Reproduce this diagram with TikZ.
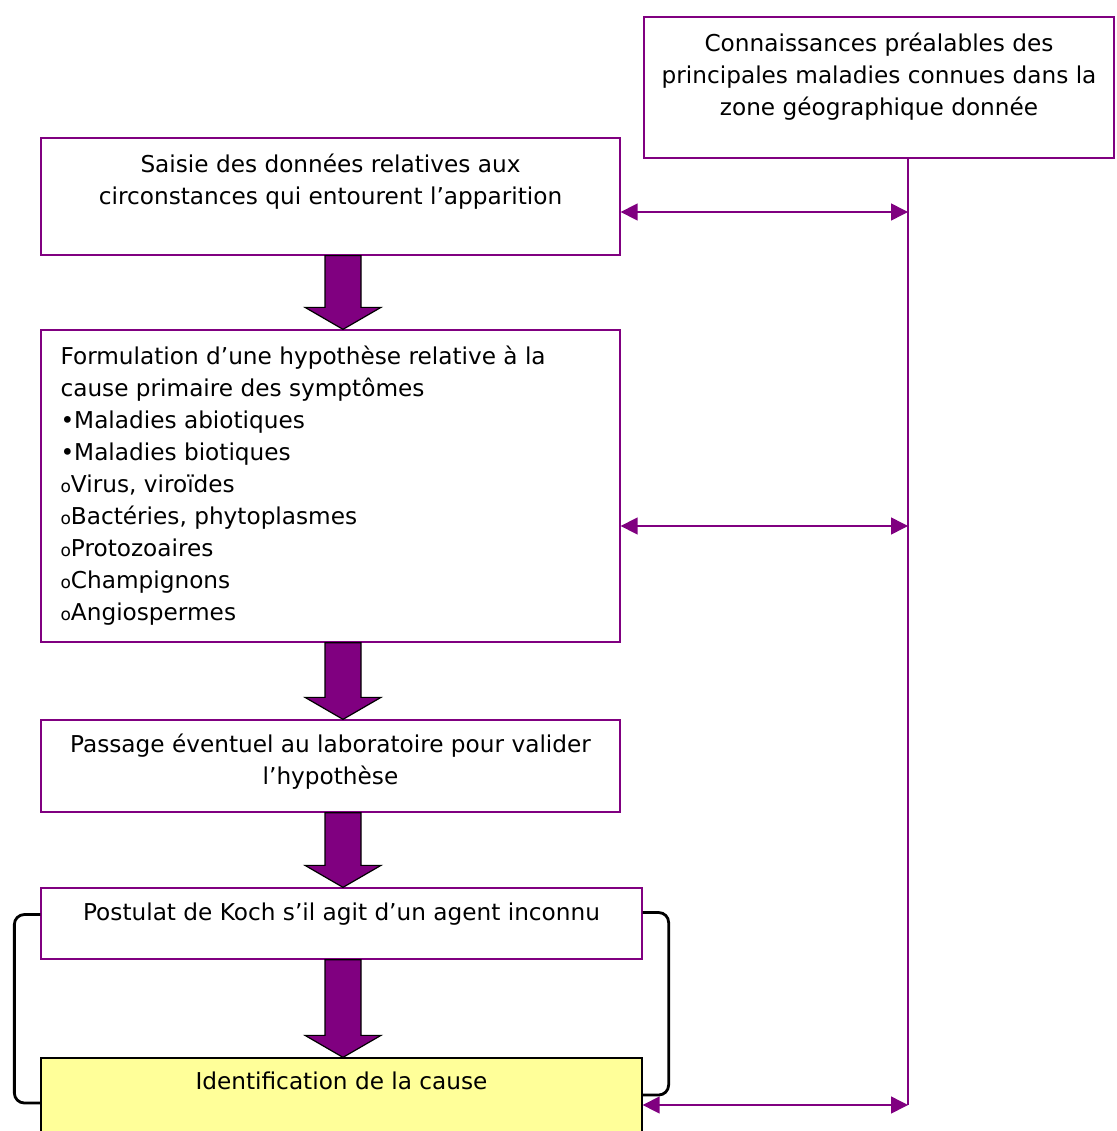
\documentclass[tikz,border=0pt]{standalone}
\usepackage{fontspec}
\setmainfont{DejaVu Sans}
\usetikzlibrary{arrows.meta,calc,positioning}

\definecolor{violet}{RGB}{128,0,128}
\definecolor{paleyellow}{RGB}{255,255,153}

\tikzset{
  box/.style={draw=violet, line width=1.3pt, rectangle, inner sep=0pt},
  txt/.style={inner sep=0pt, font=\fontsize{23.2}{32}\selectfont},
  link/.style={draw=violet, line width=1.5pt},
  dbl/.style={link, {Triangle[length=17pt,width=17pt]}-{Triangle[length=17pt,width=17pt]}},
  bigarr/.style={fill=violet, draw=black, line width=1.2pt, line join=miter},
  loopback/.style={draw=black, line width=2.8pt, rounded corners=10pt}
}

% small "o" bullet of the sub list
\newcommand{\subbullet}{{\fontsize{17}{32}\selectfont o}}

% block arrow from the bottom of #1 to the top of #2
\newcommand{\bigarrow}[2]{%
  \path (#1.south -| axis) coordinate (ba1) (#2.north -| axis) coordinate (ba2);
  \draw[bigarr] ($(ba1)+(-18,0)$) -- ($(ba1)+(18,0)$) -- ($(ba2)+(18,-22)$)
    -- ($(ba2)+(38,-22)$) -- (ba2) -- ($(ba2)+(-38,-22)$)
    -- ($(ba2)+(-18,-22)$) -- cycle;
}

\begin{document}
\begin{tikzpicture}[x=1pt, y=-1pt]
\useasboundingbox (0,0) rectangle (1116,1131);

\coordinate (axis) at (343,0);
\coordinate (vx) at (908,0);

% boxes
\node[box, minimum width=470, minimum height=141] (known) at (879,87.5) {};
\node[box, minimum width=579, minimum height=117] (saisie) at (330.5,196.5) {};
\node[box, minimum width=579, minimum height=312] (formul) at (330.5,486) {};
\node[box, minimum width=579, minimum height=92] (passage) at (330.5,766) {};
\node[box, minimum width=601, minimum height=71] (postulat) at (341.5,923.5) {};
\node[box, draw=black, fill=paleyellow, minimum width=601, minimum height=90] (ident) at (341.5,1103) {};

% texts
\node[txt, anchor=north, align=center, yshift=-16pt] (knowntxt) at (known.north)
  {Connaissances préalables des\\principales maladies connues dans la\\zone géographique donnée};
\node[txt, anchor=north, align=center, yshift=-16pt] (saisietxt) at (saisie.north)
  {Saisie des données relatives aux\\circonstances qui entourent l’apparition};
\node[txt, anchor=north west, align=left, xshift=20pt, yshift=-16pt] (formultxt) at (formul.north west)
  {Formulation d’une hypothèse relative à la\\cause primaire des symptômes\\
   •Maladies abiotiques\\•Maladies biotiques\\\subbullet Virus, viroïdes\\
   \subbullet Bactéries, phytoplasmes\\\subbullet Protozoaires\\\subbullet Champignons\\\subbullet Angiospermes};
\node[txt, anchor=north, align=center, yshift=-14pt] (passagetxt) at (passage.north)
  {Passage éventuel au laboratoire pour valider\\l’hypothèse};
\node[txt, anchor=north, align=center, yshift=-15pt] (postulattxt) at (postulat.north)
  {Postulat de Koch s’il agit d’un agent inconnu};
\node[txt, anchor=north, align=center, yshift=-14pt] (identtxt) at (ident.north)
  {Identification de la cause};

% block arrows
\bigarrow{saisie}{formul}
\bigarrow{formul}{passage}
\bigarrow{passage}{postulat}
\bigarrow{postulat}{ident}

% vertical link from the known diseases
\coordinate (v1) at (908,212);
\coordinate (v2) at (908,526);
\coordinate (v3) at (908,1105);
\draw[link] (known.south -| vx) -- (v3);
\draw[dbl] (v1 -| saisie.east) -- (v1);
\draw[dbl] (v2 -| formul.east) -- (v2);
\draw[dbl] (v3 -| ident.east) -- (v3);

% loop back brackets
\draw[loopback] ($(postulat.west)+(0,-9)$) -- ++(-26,0) |- ($(ident.west)+(0,0)$);
\draw[loopback] ($(postulat.east)+(0,-11)$) -- ++(26,0) |- ($(ident.east)+(0,-8)$);
\end{tikzpicture}
\end{document}
